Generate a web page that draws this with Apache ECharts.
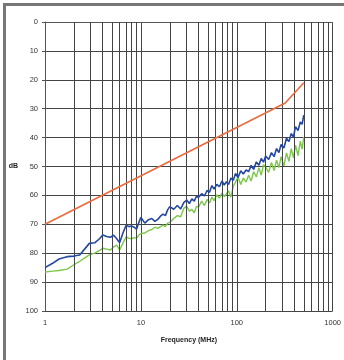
<!DOCTYPE html>
<html>
<head>
<meta charset="utf-8">
<script src="https://cdn.jsdelivr.net/npm/echarts@6/dist/echarts.min.js"></script>
<style>
  html, body { margin: 0; padding: 0; background: #fff; }
  #main { width: 344px; height: 360px; }
</style>
</head>
<body>
<div id="main"></div>
<script>
// frequency points (MHz)
var freq = [1, 1.2, 1.4, 1.7, 2, 2.3, 2.6, 2.9, 3.3, 3.7, 4, 4.4, 4.8, 5.2, 5.6, 6, 6.5, 7, 7.5, 8, 8.5, 9, 9.5,
  10, 11, 12, 13, 14, 15, 16, 17, 18, 19, 20, 22, 24, 26, 28, 30, 32, 34, 36, 38, 40, 43, 46, 49, 52, 55, 58,
  62, 66, 70, 74, 78, 82, 87, 92, 97, 103, 110, 117, 125, 133, 141, 150, 160, 170, 180, 190, 200, 215, 230,
  245, 260, 275, 290, 310, 330, 350, 370, 390, 410, 435, 460, 480, 500];

var blueDb = [85, 83.5, 82, 81.2, 81, 80.6, 78.5, 76.6, 76.4, 75, 73.7, 74.2, 74.5, 73.8, 75, 76.4, 73, 70.4, 70.8, 70.6, 71, 71.7, 69.5,
  67.6, 69.6, 68.4, 68, 69, 68.3, 67.2, 66.5, 67, 65, 63.9, 64.8, 63.5, 64.7, 62.5, 61.6, 62.8, 61.2, 62, 60.3, 60.6, 59.4, 60.2, 58.3, 58.9, 56.6, 57.8,
  56.2, 57, 55, 56.4, 55.3, 56.2, 54, 54.8, 52.4, 53.8, 51.5, 52.6, 51.2, 51.8, 49.6, 51, 48.4, 49.6, 47.2, 48.5, 46.4, 47.6, 45.2,
  46.6, 43.8, 45.2, 42.4, 43.6, 40.2, 41.4, 38.6, 39.8, 36.2, 37.6, 34.6, 35.4, 32.2];

var greenDb = [86.5, 86.2, 86, 85.5, 84, 82.8, 81.6, 80.6, 80, 79, 78.3, 78.6, 78.9, 77.8, 77.2, 78.9, 76.5, 74.4, 74.8, 75, 74.6, 74.8, 73.8,
  73.2, 73, 72.2, 71.8, 71, 71.4, 70.8, 70.3, 70.8, 69.6, 69.4, 68, 67, 67.4, 64.5, 63.7, 65.5, 64.8, 66, 63.8, 64, 62, 63.5, 61.4, 62.6, 60.6, 61.8,
  59.8, 61, 59.2, 60.4, 59.5, 58.4, 60.6, 56.8, 55.4, 53.6, 56.2, 54, 55.4, 53, 55, 51.8, 53.6, 50.4, 53, 49.4, 50.2, 52, 48.6,
  51.4, 47.8, 50.4, 46.6, 49.8, 45.3, 48.2, 43.8, 47, 42.6, 46.2, 41.2, 44, 39.8];

// limit line
var limitFreq = [1, 320, 500];
var limitDb = [70, 28, 21];

// minor grid lines 2..9 in each decade
var minorTicks = [];
[1, 10, 100].forEach(function (d) {
  for (var k = 2; k <= 9; k++) minorTicks.push(k * d);
});

function pairs(xs, ys) {
  return xs.map(function (x, i) { return [x, ys[i]]; });
}

var chart = echarts.init(document.getElementById('main'));
var font = 'Liberation Sans, Arial, sans-serif';

var option = {
  backgroundColor: '#fff',
  animation: false,
  graphic: [
    { type: 'rect', left: 3, top: 3, shape: { width: 341, height: 3 }, style: { fill: '#777' } },
    { type: 'rect', left: 3, top: 3, shape: { width: 3, height: 357 }, style: { fill: '#777' } }
  ],
  grid: { left: 45, right: 10, top: 22, bottom: 49 },
  xAxis: {
    type: 'log',
    logBase: 10,
    min: 1,
    max: 1000,
    name: 'Frequency (MHz)',
    nameLocation: 'middle',
    nameGap: 26,
    nameTextStyle: { fontFamily: font, fontSize: 7, fontWeight: 'bold', color: '#222' },
    axisLine: { show: true, lineStyle: { color: '#555', width: 1 } },
    axisTick: { show: true, length: 3, lineStyle: { color: '#555' } },
    axisLabel: {
      fontFamily: font, fontSize: 7.5, color: '#333', margin: 8,
      formatter: function (v) { return String(Math.round(v)); }
    },
    splitLine: { show: true, lineStyle: { color: '#444', width: 1 } }
  },
  yAxis: {
    type: 'value',
    inverse: true,
    min: 0,
    max: 100,
    interval: 10,
    name: 'dB',
    nameLocation: 'middle',
    nameRotate: 0,
    nameGap: 27,
    nameTextStyle: { fontFamily: font, fontSize: 7, fontWeight: 'bold', color: '#222' },
    axisLine: { show: true, lineStyle: { color: '#555', width: 1 } },
    axisTick: { show: true, length: 3, lineStyle: { color: '#555' } },
    axisLabel: { fontFamily: font, fontSize: 7.5, color: '#333', margin: 7 },
    splitLine: { show: true, lineStyle: { color: '#444', width: 1 } }
  },
  series: [
    {
      type: 'line',
      data: [],
      silent: true,
      markLine: {
        silent: true,
        symbol: 'none',
        label: { show: false },
        lineStyle: { color: '#444', width: 1, type: 'solid' },
        data: minorTicks.map(function (v) { return { xAxis: v }; })
      }
    },
    {
      name: 'limit',
      type: 'line',
      data: pairs(limitFreq, limitDb),
      showSymbol: false,
      lineStyle: { color: '#EE6A3C', width: 1.6 },
      z: 5
    },
    {
      name: 'green',
      type: 'line',
      data: pairs(freq, greenDb),
      showSymbol: false,
      lineStyle: { color: '#7CC84A', width: 1.4 },
      z: 4
    },
    {
      name: 'blue',
      type: 'line',
      data: pairs(freq, blueDb),
      showSymbol: false,
      lineStyle: { color: '#2448A2', width: 1.6 },
      z: 5
    }
  ]
};

chart.setOption(option);
</script>
</body>
</html>
